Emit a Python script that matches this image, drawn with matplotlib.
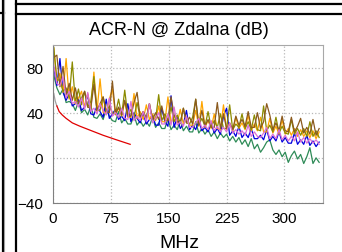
import numpy as np
import matplotlib
matplotlib.use("Agg")
import matplotlib.pyplot as plt
from matplotlib.lines import Line2D

plt.rcParams['font.family'] = ['Liberation Sans', 'DejaVu Sans']

# measurement frequencies (MHz), 4 MHz steps
freq = np.arange(1, 346, 4)

green = [73, 62, 56, 61, 49, 50, 48, 42, 50, 40,
         43, 38, 46, 36, 35, 39, 34, 43, 37, 33,
         32, 41, 31, 35, 30, 30, 38, 29, 33, 28,
         32, 28, 36, 27, 31, 26, 26, 35, 25, 29,
         25, 33, 24, 28, 23, 23, 32, 22, 26, 21,
         25, 19, 23, 17, 22, 18, 21, 15, 19, 14,
         18, 12, 16, 10, 17, 8, 12, 5, 9, 14,
         16, 7, 3, 7, 1, 5, -4, 2, 6, -1,
         3, -5, 1, 9, -5, 0, -4]
blue = [80, 64, 88, 58, 51, 57, 46, 48, 52, 42,
        45, 56, 39, 38, 46, 41, 36, 52, 35, 39,
        43, 34, 37, 33, 48, 32, 40, 35, 31, 39,
        30, 34, 38, 29, 29, 44, 32, 28, 55, 27,
        36, 26, 30, 42, 25, 29, 25, 33, 24, 27,
        23, 31, 22, 26, 21, 37, 44, 20, 24, 19,
        28, 18, 22, 18, 26, 17, 17, 20, 16, 25,
        15, 19, 15, 23, 14, 18, 13, 13, 22, 12,
        16, 12, 20, 11, 15, 10, 14]
violet = [82, 66, 64, 72, 53, 59, 48, 50, 45, 53,
          43, 58, 41, 44, 39, 48, 42, 38, 53, 37,
          40, 36, 44, 35, 34, 50, 33, 37, 33, 41,
          32, 48, 31, 35, 40, 30, 30, 39, 29, 45,
          29, 32, 28, 37, 27, 27, 31, 35, 26, 29,
          25, 33, 24, 28, 23, 27, 23, 31, 22, 25,
          21, 24, 20, 29, 19, 23, 19, 18, 22, 27,
          17, 21, 17, 25, 16, 20, 15, 19, 15, 23,
          14, 18, 13, 17, 13, 16, 12]
orange = [97, 68, 75, 58, 88, 52, 63, 48, 53, 59,
          45, 57, 43, 76, 41, 70, 40, 40, 52, 61,
          38, 44, 37, 50, 36, 36, 57, 35, 41, 34,
          47, 34, 39, 33, 46, 32, 32, 54, 31, 37,
          31, 43, 30, 36, 29, 29, 42, 28, 50, 27,
          33, 26, 39, 26, 25, 47, 25, 30, 24, 36,
          26, 31, 25, 38, 24, 30, 24, 36, 23, 23,
          35, 22, 28, 21, 34, 21, 26, 20, 26, 19,
          25, 19, 24, 18, 24, 17, 23]
olive = [98, 69, 69, 59, 62, 53, 85, 49, 61, 47,
         59, 45, 50, 72, 42, 42, 54, 41, 46, 40,
         39, 52, 38, 60, 37, 43, 36, 49, 36, 41,
         35, 48, 34, 34, 56, 33, 39, 33, 45, 32,
         38, 31, 44, 31, 30, 36, 52, 29, 35, 28,
         41, 27, 33, 27, 39, 26, 26, 47, 25, 30,
         27, 39, 26, 32, 25, 38, 25, 24, 46, 24,
         29, 23, 36, 22, 28, 22, 21, 34, 21, 26,
         20, 26, 19, 32, 19, 24, 18]
brown = [89, 91, 63, 81, 56, 66, 51, 62, 48, 53,
         59, 45, 44, 65, 42, 48, 54, 41, 40, 68,
         39, 45, 38, 51, 37, 37, 49, 58, 36, 41,
         35, 48, 34, 40, 34, 46, 33, 33, 54, 38,
         32, 31, 44, 31, 36, 30, 52, 29, 42, 28,
         34, 27, 27, 49, 26, 39, 26, 31, 25, 37,
         29, 34, 28, 41, 27, 27, 40, 26, 32, 48,
         38, 25, 31, 24, 37, 24, 23, 36, 23, 28,
         35, 22, 27, 21, 34, 20, 26]

# limit line
lim_gray_f = [1, 3, 5]
lim_gray_v = [57, 50, 46]
lim_red_f = [5, 8, 12, 17, 25, 35, 50, 65, 80, 100]
lim_red_v = [46, 41, 38, 35, 31, 28, 24, 20, 16.5, 12]

series = [
    (green, "#2E8B57"),
    (blue, "#0000DD"),
    (orange, "#FFA500"),
    (olive, "#8B8B00"),
    (brown, "#8B5A1E"),
    (violet, "#DA70D6"),
]

W, H = 342, 253
fig = plt.figure(figsize=(W / 100, H / 100), dpi=100)
ax = fig.add_axes([53 / W, 1 - 204 / H, 270 / W, 158 / H])

for vals, col in series:
    ax.plot(freq, vals, color=col, lw=0.9)
ax.plot(lim_gray_f, lim_gray_v, color="#A0A0A0", lw=0.9)
ax.plot(lim_red_f, lim_red_v, color="#E00000", lw=0.9)

ax.set_xlim(0, 350)
ax.set_ylim(-40, 100)
ax.set_xticks([0, 75, 150, 225, 300])
ax.set_yticks([-40, 0, 40, 80])
ax.tick_params(length=0, labelsize=11, colors="black")
ax.tick_params(axis="y", pad=7)
ax.tick_params(axis="x", pad=6)
ax.grid(True, color="#B8B8B8", linestyle=":", lw=0.9)
for s in ("left", "bottom"):
    ax.spines[s].set_color("#808080")
for s in ("top", "right"):
    ax.spines[s].set_color("#A8A8A8")

fig.text(179 / W, 1 - 35 / H, "ACR-N @ Zdalna (dB)", ha="center", va="baseline", fontsize=13)
fig.text(179 / W, 1 - 248 / H, "MHz", ha="center", va="baseline", fontsize=14)

# panel borders
def hline(y, x0, x1, color="black", lw=1.6):
    fig.add_artist(Line2D([x0 / W, x1 / W], [1 - y / H, 1 - y / H], color=color, lw=lw))

def vline(x, y0, y1, color="black", lw=1.6):
    fig.add_artist(Line2D([x / W, x / W], [1 - y0 / H, 1 - y1 / H], color=color, lw=lw))

hline(3.5, 16, W, color="#A0A0A0", lw=0.8)
hline(4.8, 16, W)
hline(13.5, 0, 4, color="black")
hline(14.5, 16, W)
vline(3, 0, H)
vline(4.3, 0, H, color="#A0A0A0", lw=0.8)
vline(15.8, 0, H)

fig.savefig("out.png", dpi=100)
